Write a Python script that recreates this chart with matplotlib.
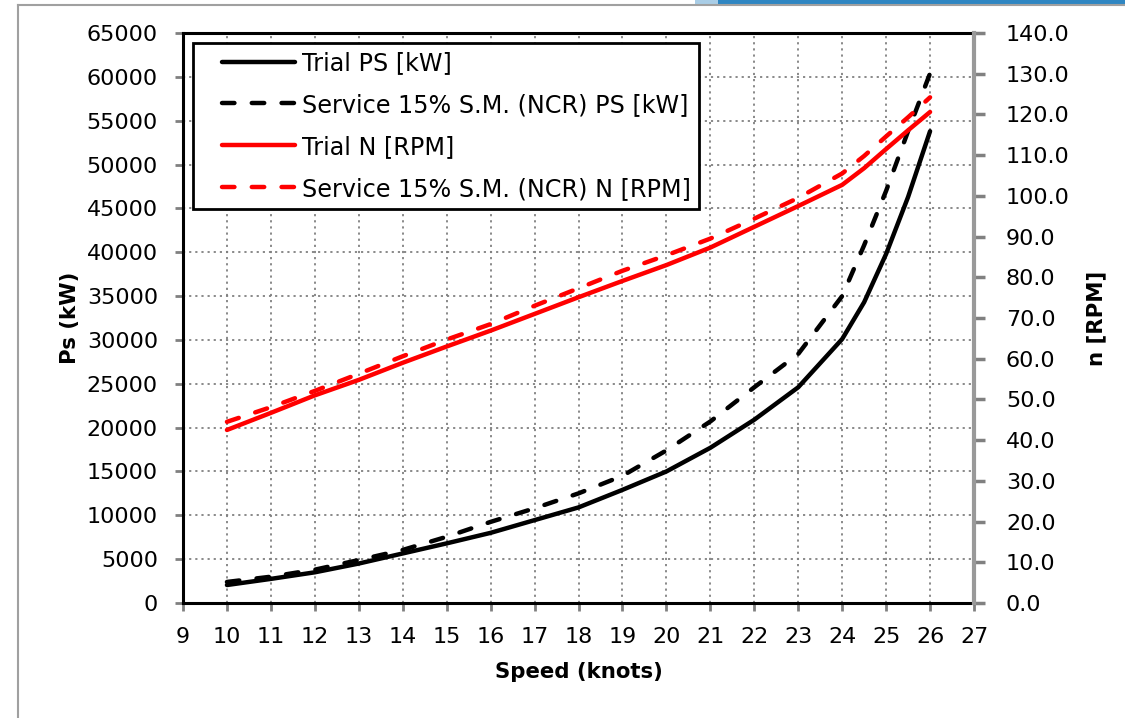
import matplotlib
matplotlib.use("Agg")
import numpy as np
import matplotlib.pyplot as plt
from matplotlib.lines import Line2D
from matplotlib.patches import Rectangle
from matplotlib.legend_handler import HandlerLine2D

speed = [10, 11, 12, 13, 14, 15, 16, 17, 18, 19, 20, 21, 22, 23, 24, 24.5, 25, 25.5, 26]
trial_ps = [2050, 2750, 3500, 4500, 5650, 6800, 8000, 9450, 10900, 12900,
            15000, 17700, 20900, 24600, 30100, 34300, 39800, 46300, 53800]
service_ps = [2400, 3000, 3800, 4900, 6050, 7550, 9250, 10800, 12500, 14500,
              17400, 20700, 24600, 28400, 35000, 40800, 47000, 53800, 60400]
trial_n = [42.5, 46.7, 51.0, 54.8, 59.0, 63.0, 66.9, 71.0, 75.1, 79.1,
           83.0, 87.3, 92.4, 97.5, 102.7, 106.8, 111.5, 116.1, 120.6]
service_n = [44.5, 48.1, 52.1, 56.3, 60.6, 64.7, 68.5, 73.0, 77.3, 81.6,
             85.4, 89.5, 94.4, 99.5, 105.5, 109.8, 114.6, 119.3, 124.2]

labels = ["Trial PS [kW]", "Service 15% S.M. (NCR) PS [kW]",
          "Trial N [RPM]", "Service 15% S.M. (NCR) N [RPM]"]
x_ticks = list(range(9, 28))
ps_ticks = list(range(0, 65001, 5000))
n_ticks = list(range(0, 141, 10))

plt.rcParams['font.family'] = ['DejaVu Sans']
FS = 16
AFS = 15.3
LFS = 17.2


class LeftPadHandler(HandlerLine2D):
    def __init__(self, lpad=0.9, **kw):
        super().__init__(**kw)
        self.lpad = lpad

    def get_xdata(self, legend, xdescent, ydescent, width, height, fontsize):
        pad = self.lpad * fontsize
        xd = np.array([-xdescent + pad, -xdescent + width])
        return xd, np.array([xd.mean()])


fig = plt.figure(figsize=(11.25, 7.18), dpi=100)
ax = fig.add_axes([183/1125, 1-603/718, (974-183)/1125, (603-33)/718])
ax2 = ax.twinx()

dash = (2.8, 3.9)
LW = 3.2
l1, = ax.plot(speed, trial_ps, color='black', lw=LW, solid_capstyle='round',
              solid_joinstyle='round', zorder=3)
l2, = ax.plot(speed, service_ps, color='black', lw=LW, dashes=dash,
              dash_capstyle='round', dash_joinstyle='round', zorder=3)
l3, = ax2.plot(speed, trial_n, color='#ff0000', lw=LW, solid_capstyle='round',
               solid_joinstyle='round', zorder=3)
l4, = ax2.plot(speed, service_n, color='#ff0000', lw=LW, dashes=dash,
               dash_capstyle='round', dash_joinstyle='round', zorder=3)

ax.set_xlim(9, 27)
ax.set_ylim(0, 65000)
ax2.set_ylim(0, 140)
ax.set_xticks(x_ticks)
ax.set_yticks(ps_ticks)
ax2.set_yticks(n_ticks)
ax.set_yticklabels([str(v) for v in ps_ticks])
ax2.set_yticklabels([f"{v:.1f}" for v in n_ticks])

ax.grid(True, color='#808080', linestyle=(0, (1.2, 2.2)), linewidth=1.3)
ax.set_axisbelow(True)

ax.tick_params(axis='both', labelsize=FS, color='#808080', width=2, length=6,
               direction='out')
ax.tick_params(axis='x', pad=11)
ax.tick_params(axis='y', pad=12)
ax2.tick_params(axis='y', labelsize=FS, color='#808080', width=2.5, length=8,
                direction='out', pad=15)

for s in ['left', 'bottom', 'top']:
    ax.spines[s].set_color('black')
    ax.spines[s].set_linewidth(2.2)
ax.spines['right'].set_visible(False)
for s in ['left', 'bottom', 'top']:
    ax2.spines[s].set_visible(False)
ax2.spines['right'].set_color('#999999')
ax2.spines['right'].set_linewidth(3)

ax.set_xlabel("Speed (knots)", fontsize=AFS, fontweight='bold', labelpad=11)
ax.set_ylabel("Ps (kW)", fontsize=AFS, fontweight='bold', labelpad=5)
ax2.set_ylabel("n [RPM]", fontsize=AFS, fontweight='bold', labelpad=12)

hm = {h: LeftPadHandler(lpad=0.9) for h in [l1, l2, l3, l4]}
leg = ax2.legend([l1, l2, l3, l4], labels, loc='upper left',
                 bbox_to_anchor=(10/791, 1-10/570), fontsize=LFS,
                 frameon=True, fancybox=False, framealpha=1,
                 edgecolor='black', handlelength=3.95, handletextpad=0.3,
                 labelspacing=0.75, borderpad=0.33, borderaxespad=0,
                 handler_map=hm)
leg.get_frame().set_linewidth(2)

# screenshot frame
fig.add_artist(Line2D([18/1125, 18/1125], [0, 1-5/718], transform=fig.transFigure,
                      color='#a0a0a0', lw=1.5))
fig.add_artist(Line2D([18/1125, 1], [1-5/718, 1-5/718], transform=fig.transFigure,
                      color='#a0a0a0', lw=1.5))
fig.add_artist(Rectangle((718/1125, 1-4/718), (1125-718)/1125, 4/718,
                         transform=fig.transFigure, color='#2f86c2', lw=0))
fig.add_artist(Rectangle((695/1125, 1-4/718), 23/1125, 4/718,
                         transform=fig.transFigure, color='#a9cde6', lw=0))

fig.savefig("out.png", dpi=100)
